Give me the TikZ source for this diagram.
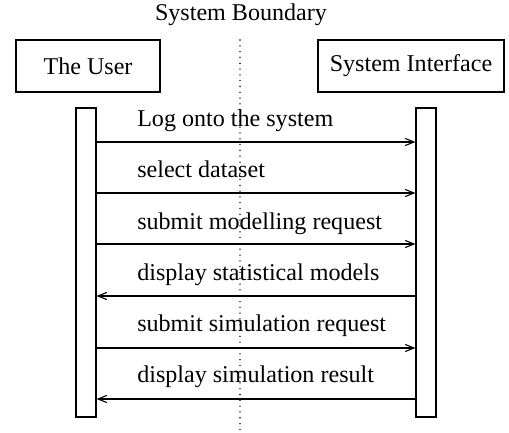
\documentclass[tikz,border=0pt]{standalone}
\usepackage{fontspec}
\setmainfont{Liberation Serif}
\usetikzlibrary{arrows.meta}
\tikzset{>={Straight Barb[length=2.2mm,width=1.8mm]}}
\tikzset{
  actor/.style={shape=rectangle,draw,line width=0.9pt,minimum height=0.52in,align=center},
  lifebar/.style={shape=rectangle,draw,line width=0.9pt,minimum width=0.2in,minimum height=3.09in},
  msglabel/.style={anchor=base west,inner sep=0pt},
  msg/.style={->,line width=0.8pt}
}

\begin{document}
\begin{tikzpicture}[font=\fontsize{17.4}{21}\selectfont]

\useasboundingbox (0in,0in) rectangle (5.09in,-4.32in);

\path (2.41in,-0.15in) node (title) {System Boundary};

\path (0.88in,-0.66in) node (user) [actor,minimum width=1.44in]{The User};

\path (4.11in,-0.66in) node (sysif) [actor,minimum width=1.86in]{System Interface};

\path (0.86in,-2.625in) node (userbar) [lifebar]{};

\path (4.26in,-2.625in) node (sysbar) [lifebar]{};

% system boundary
\coordinate (btop) at (2.40in,-0.40in);
\coordinate (bbot) at (2.40in,-4.32in);
\draw [line width=1.1pt,line cap=round,dash pattern=on 0pt off 4.2pt] (btop) -- (bbot);

% message levels
\coordinate (m1) at (0in,-1.42in);
\coordinate (m2) at (0in,-1.93in);
\coordinate (m3) at (0in,-2.44in);
\coordinate (m4) at (0in,-2.96in);
\coordinate (m5) at (0in,-3.48in);
\coordinate (m6) at (0in,-3.99in);

\path (1.37in,-1.26in) node (l1) [msglabel]{Log onto the system};
\path (1.37in,-1.77in) node (l2) [msglabel]{select dataset};
\path (1.37in,-2.29in) node (l3) [msglabel]{submit modelling request};
\path (1.37in,-2.80in) node (l4) [msglabel]{display statistical models};
\path (1.37in,-3.31in) node (l5) [msglabel]{submit simulation request};
\path (1.37in,-3.82in) node (l6) [msglabel]{display simulation result};

\draw [msg] (userbar.east |- m1) -- (sysbar.west |- m1);
\draw [msg] (userbar.east |- m2) -- (sysbar.west |- m2);
\draw [msg] (userbar.east |- m3) -- (sysbar.west |- m3);
\draw [msg] (sysbar.west |- m4) -- (userbar.east |- m4);
\draw [msg] (userbar.east |- m5) -- (sysbar.west |- m5);
\draw [msg] (sysbar.west |- m6) -- (userbar.east |- m6);

\end{tikzpicture}
\end{document}
